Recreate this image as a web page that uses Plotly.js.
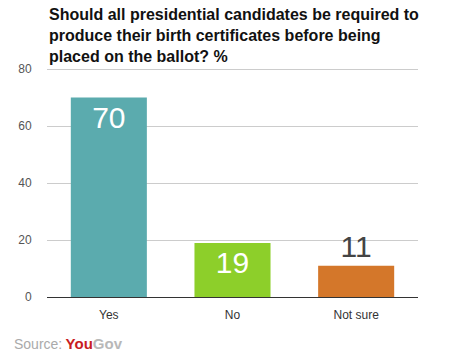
<!DOCTYPE html>
<html>
<head>
<meta charset="utf-8">
<script src="https://cdn.plot.ly/plotly-3.0.1.min.js"></script>
<style>html,body{margin:0;padding:0;background:#fff;}#chart{width:460px;height:360px;}</style>
</head>
<body>
<div id="chart"></div>
<script>
const categories = ["Yes", "No", "Not sure"];
const values = [70, 19, 11];
const barColors = ["#5BABAE", "#8DCF2A", "#D4772A"];
const yTicks = [0, 20, 40, 60, 80];
const titleText = "Should all presidential candidates be required to<br>produce their birth certificates before being<br>placed on the ballot? %";

const trace = {
  type: "bar",
  x: categories,
  y: values,
  marker: {color: barColors, line: {width: 0}},
  text: values.map(String),
  textposition: ["inside", "inside", "outside"],
  insidetextanchor: "end",
  textangle: 0,
  constraintext: "none",
  cliponaxis: false,
  textfont: {family: "Liberation Sans, Arial, sans-serif", size: 30, color: ["#ffffff", "#ffffff", "#444444"]},
  hoverinfo: "none"
};

const plotH = 360 - 68 - 63;

const layout = {
  width: 460, height: 360,
  margin: {l: 47, r: 42, t: 68, b: 63},
  paper_bgcolor: "#ffffff", plot_bgcolor: "#ffffff",
  bargap: 0.385,
  showlegend: false,
  font: {family: "Liberation Sans, Arial, sans-serif"},
  xaxis: {
    type: "category",
    showgrid: false, zeroline: false, showline: false,
    ticks: "outside", ticklen: 7, tickcolor: "rgba(0,0,0,0)",
    tickfont: {size: 12, color: "#333333"},
    automargin: false
  },
  yaxis: {
    range: [0, 80.4],
    tickvals: yTicks,
    ticktext: yTicks.map(String),
    showgrid: true, gridcolor: "#cccccc", gridwidth: 1,
    zeroline: true, zerolinecolor: "#333333", zerolinewidth: 1,
    showline: false,
    ticks: "outside", ticklen: 12, tickcolor: "rgba(0,0,0,0)",
    tickfont: {size: 12, color: "#555555"},
    automargin: false
  },
  annotations: [{
    xref: "paper", yref: "paper",
    x: 0, y: 1 + (68 - 4) / plotH,
    xanchor: "left", yanchor: "top",
    showarrow: false, align: "left",
    text: "<b>" + titleText + "</b>",
    font: {family: "Liberation Sans, Arial, sans-serif", size: 16, color: "#111111"}
  }, {
    xref: "paper", yref: "paper",
    x: (12 - 47) / 371, y: -(343 - 297) / plotH,
    xanchor: "left", yanchor: "middle",
    showarrow: false,
    align: "left",
    text: '<span style="color:#aaaaaa;font-size:14px">Source:</span> <b><span style="color:#C8201F;font-size:15px">You</span><span style="color:#b8b8b8;font-size:15px">Gov</span></b>'
  }]
};

Plotly.newPlot("chart", [trace], layout, {displayModeBar: false, staticPlot: true});
</script>
</body>
</html>
